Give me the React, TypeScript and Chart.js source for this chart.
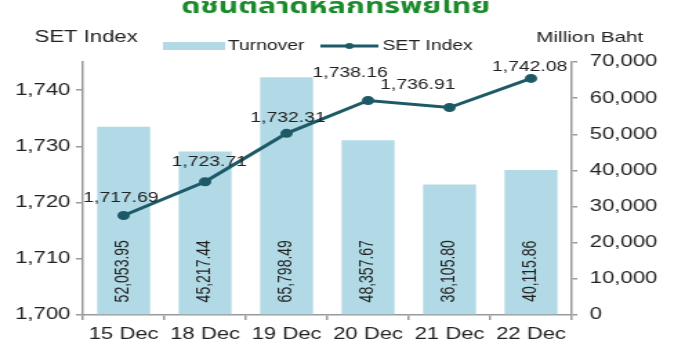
import React, { useEffect, useRef } from "react";
import { Chart, registerables } from "chart.js";

Chart.register(...registerables);

// Trading days
const categories = ["15 Dec", "18 Dec", "19 Dec", "20 Dec", "21 Dec", "22 Dec"];
// Market turnover, million baht
const turnover = [52053.95, 45217.44, 65798.49, 48357.67, 36105.8, 40115.86];
// SET Index close
const setIndex = [1717.69, 1723.71, 1732.31, 1738.16, 1736.91, 1742.08];

const titleText = "ดัชนีตลาดหลักทรัพย์ไทย";
const leftAxisTitle = "SET Index";
const rightAxisTitle = "Million Baht";
const turnoverLabel = "Turnover";
const indexLabel = "SET Index";

// The chart is laid out on a narrower canvas and widened by CSS.
const CANVAS_W = 496;
const CANVAS_H = 360;

const BAR_COLOR = "#b1dae6";
const LINE_COLOR = "#1d5a67";
const TEXT_COLOR = "#222222";
const AXIS_COLOR = "#9a9a9a";
const TITLE_COLOR = "#1a8a2a";
const FONT = "Arial, 'Liberation Sans', sans-serif";

// Hand-placed nudges for the index value labels: [dx, dy above point]
const indexLabelNudge: [number, number][] = [
  [-2, 17],
  [3, 20],
  [1, 15],
  [-13, 27],
  [-23, 22],
  [-1, 11],
];

const fmt2 = (v: number) =>
  v.toLocaleString("en-US", { minimumFractionDigits: 2, maximumFractionDigits: 2 });
const fmt0 = (v: number) => v.toLocaleString("en-US");

const labelsPlugin = {
  id: "valueLabels",
  afterDatasetsDraw(chart: any) {
    const ctx = chart.ctx as CanvasRenderingContext2D;
    ctx.save();
    // turnover values, vertical, inside each bar
    const barMeta = chart.getDatasetMeta(1);
    ctx.font = `14px ${FONT}`;
    ctx.fillStyle = TEXT_COLOR;
    ctx.textAlign = "center";
    ctx.textBaseline = "middle";
    barMeta.data.forEach((bar: any, i: number) => {
      ctx.save();
      ctx.translate(bar.x, bar.base - 43);
      ctx.rotate(-Math.PI / 2);
      ctx.fillText(fmt2(turnover[i]), 0, 0);
      ctx.restore();
    });
    // index values above the line points
    const lineMeta = chart.getDatasetMeta(0);
    lineMeta.data.forEach((pt: any, i: number) => {
      const [dx, dy] = indexLabelNudge[i];
      ctx.fillText(fmt2(setIndex[i]), pt.x + dx, pt.y - dy);
    });
    ctx.restore();
  },
};

const headerPlugin = {
  id: "header",
  afterDraw(chart: any) {
    const ctx = chart.ctx as CanvasRenderingContext2D;
    ctx.save();
    // title
    ctx.fillStyle = TITLE_COLOR;
    ctx.font = `bold 22px 'Noto Sans Thai', Tahoma, 'DejaVu Sans', sans-serif`;
    ctx.textAlign = "center";
    ctx.textBaseline = "alphabetic";
    ctx.fillText(titleText, 243, 13);

    // axis titles
    ctx.fillStyle = TEXT_COLOR;
    ctx.textBaseline = "middle";
    ctx.font = `16px ${FONT}`;
    ctx.textAlign = "left";
    ctx.fillText(leftAxisTitle, 25, 38);
    ctx.font = `15px ${FONT}`;
    ctx.textAlign = "center";
    ctx.fillText(rightAxisTitle, 427, 38);

    // legend
    ctx.fillStyle = BAR_COLOR;
    ctx.fillRect(118, 42, 45, 8);
    ctx.fillStyle = TEXT_COLOR;
    ctx.font = `14px ${FONT}`;
    ctx.textAlign = "left";
    ctx.fillText(turnoverLabel, 165, 46);
    ctx.strokeStyle = LINE_COLOR;
    ctx.lineWidth = 3;
    ctx.beginPath();
    ctx.moveTo(232, 46);
    ctx.lineTo(274, 46);
    ctx.stroke();
    ctx.fillStyle = LINE_COLOR;
    ctx.beginPath();
    ctx.arc(253, 46, 3, 0, Math.PI * 2);
    ctx.fill();
    ctx.fillStyle = TEXT_COLOR;
    ctx.fillText(indexLabel, 277, 46);
    ctx.restore();
  },
};

export default function App() {
  const ref = useRef<HTMLCanvasElement | null>(null);

  useEffect(() => {
    if (!ref.current) return;
    const chart = new Chart(ref.current, {
      type: "bar",
      data: {
        labels: categories,
        datasets: [
          {
            type: "line",
            label: indexLabel,
            data: setIndex,
            yAxisID: "y",
            borderColor: LINE_COLOR,
            backgroundColor: LINE_COLOR,
            borderWidth: 3,
            pointRadius: 3,
            pointBackgroundColor: LINE_COLOR,
            pointBorderColor: LINE_COLOR,
            tension: 0,
            order: 0,
          },
          {
            type: "bar",
            label: turnoverLabel,
            data: turnover,
            yAxisID: "y1",
            backgroundColor: BAR_COLOR,
            borderWidth: 0,
            categoryPercentage: 1,
            barPercentage: 0.65,
            order: 1,
          },
        ],
      },
      options: {
        animation: false,
        responsive: false,
        devicePixelRatio: 1,
        layout: { padding: { top: 62, left: 0, right: 0, bottom: 0 } },
        plugins: {
          legend: { display: false },
          title: { display: false },
          tooltip: { enabled: false },
        },
        scales: {
          x: {
            type: "category",
            position: "bottom",
            grid: {
              offset: true,
              drawOnChartArea: false,
              tickLength: 5,
              color: AXIS_COLOR,
              lineWidth: 1.5,
            },
            border: { color: AXIS_COLOR, width: 1.5 },
            ticks: {
              color: TEXT_COLOR,
              font: { size: 16, family: FONT },
              padding: 5,
              maxRotation: 0,
            },
            afterFit: (s: any) => {
              s.height = 45;
            },
          },
          y: {
            type: "linear",
            position: "left",
            min: 1700,
            max: 1745,
            grid: {
              drawOnChartArea: false,
              tickLength: 5,
              color: AXIS_COLOR,
              lineWidth: 1.5,
            },
            border: { color: AXIS_COLOR, width: 1.5 },
            ticks: {
              stepSize: 10,
              includeBounds: false,
              color: TEXT_COLOR,
              font: { size: 16, family: FONT },
              padding: 4,
              callback: (v: any) => fmt0(Number(v)),
            },
            afterFit: (s: any) => {
              s.width = 60;
            },
          },
          y1: {
            type: "linear",
            position: "right",
            min: 0,
            max: 70000,
            grid: {
              drawOnChartArea: false,
              tickLength: 4,
              color: AXIS_COLOR,
              lineWidth: 1.5,
            },
            border: { color: AXIS_COLOR, width: 1.5 },
            ticks: {
              stepSize: 10000,
              color: TEXT_COLOR,
              font: { size: 16, family: FONT },
              padding: 9,
              callback: (v: any) => fmt0(Number(v)),
            },
            afterFit: (s: any) => {
              s.width = 82;
            },
          },
        },
      },
      plugins: [labelsPlugin, headerPlugin],
    });
    return () => chart.destroy();
  }, []);

  return (
    <div style={{ position: "absolute", left: 0, top: 0, width: 685, height: 360, background: "#fff" }}>
      <canvas
        ref={ref}
        width={CANVAS_W}
        height={CANVAS_H}
        style={{ width: "685px", height: "360px", display: "block" }}
      />
    </div>
  );
}
